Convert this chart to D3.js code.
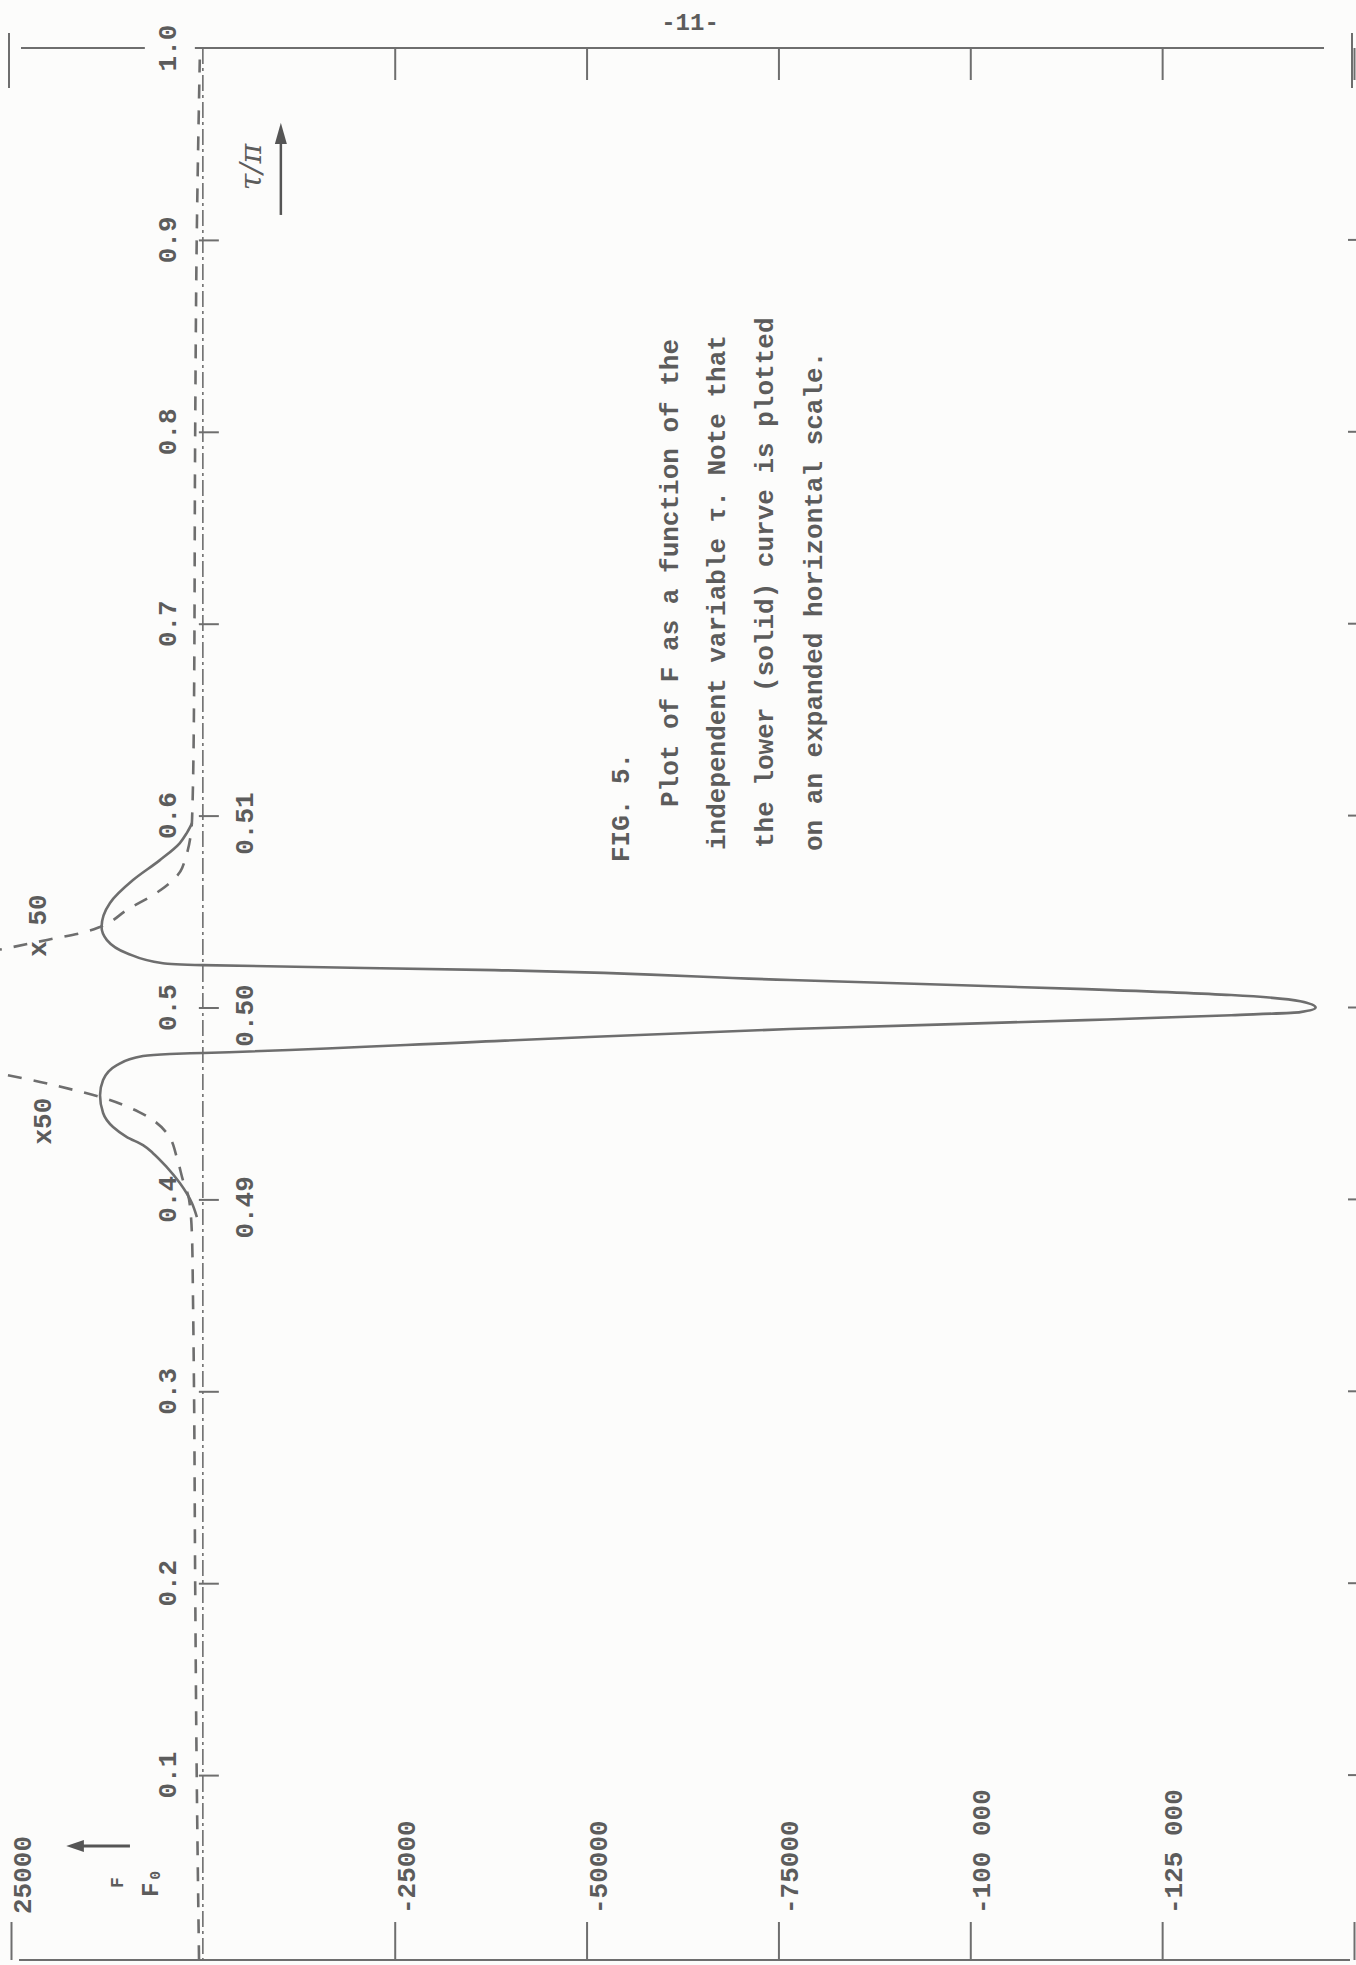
<!DOCTYPE html>
<html>
<head>
<meta charset="utf-8">
<script src="https://cdnjs.cloudflare.com/ajax/libs/d3/7.8.5/d3.min.js"></script>
<style>
  body { margin: 0; background: #fcfcfb; }
  svg { display: block; }
  text { font-family: "Liberation Mono", "DejaVu Sans Mono", monospace; fill: #5c5c5c; font-weight: bold; }
</style>
</head>
<body>
<svg id="chart" width="1356" height="1965"></svg>
<script>
(function (d3) {
    'use strict';

    // tau/pi ticks, main scale
    const tauTicks = [0.1, 0.2, 0.3, 0.4, 0.5, 0.6, 0.7, 0.8, 0.9, 1.0];
    const tauLabels = ["0.1", "0.2", "0.3", "0.4", "0.5", "0.6", "0.7", "0.8", "0.9", "1.0"];
    // expanded scale ticks (solid curve)
    const expTicks = [0.49, 0.50, 0.51];
    const expLabels = ["0.49", "0.50", "0.51"];
    // F ticks
    const fTicks = [25000, -25000, -50000, -75000, -100000, -125000, -150000];
    const fLabels = ["25000", "-25000", "-50000", "-75000", "-100 000", "-125 000", ""];

    // solid curve, expanded tau scale
    const solidTau = [0.48908, 0.48981, 0.49085, 0.49168, 0.49241, 0.49283, 0.49325, 0.49377, 0.4945, 0.49543,
        0.49622, 0.4970, 0.49747, 0.49758, 0.49763, 0.49825, 0.49888, 0.49934, 0.4996, 0.49976,
        0.5000, 0.50033, 0.50065, 0.50096, 0.50143, 0.50195, 0.50221, 0.50231, 0.50283, 0.50351,
        0.50419, 0.50545, 0.50664, 0.50768, 0.50857, 0.50909, 0.50961];
    const solidF = [780, 1430, 3000, 4700, 6500, 7800, 9900, 11700, 13000, 13400,
        13000, 11200, 7800, 4300, 0, -38000, -76500, -115000, -134000, -143000,
        -145000, -143000, -134000, -115000, -76500, -38000, 0, 5200, 9900, 12500,
        13200, 12100, 9100, 5600, 3000, 2100, 1400];

    // dashed curve (x50), main tau scale, lower and upper branch
    const dashLowTau = [0.004, 0.1, 0.2, 0.3, 0.353, 0.379, 0.400, 0.410, 0.4205, 0.4346, 0.4455, 0.4534, 0.4570, 0.4612, 0.4648, 0.467];
    const dashLowF = [500, 800, 1000, 1150, 1300, 1400, 1800, 2600, 3300, 4700, 8300, 13400, 16800, 21200, 25500, 28000];
    const dashUpTau = [0.529, 0.531, 0.5352, 0.5393, 0.5420, 0.5508, 0.5612, 0.5727, 0.5988, 0.66, 0.80, 0.90, 0.994];
    const dashUpF = [28000, 25400, 20300, 15400, 13400, 9900, 5500, 2700, 1400, 1150, 1000, 800, 400];

    const ink = "#6e6e6e";
    const svg = d3.select("#chart");
    svg.append("rect").attr("width", 1356).attr("height", 1965).attr("fill", "#fcfcfb");

    const x = d3.scaleLinear().domain([25000, -150000]).range([11, 1354]);
    const y = d3.scaleLinear().domain([0, 1]).range([1967, 48]);
    const yExp = d3.scaleLinear().domain([0.49, 0.51]).range([y(0.4), y(0.6)]);

    const x0 = x(0);
    const yTop = y(1);
    const yBot = 1960;

    // borders
    const border = svg.append("g").attr("stroke", ink).attr("stroke-width", 2).attr("fill", "none");
    border.append("line").attr("x1", x(25000) + 10).attr("x2", x(-150000) - 30).attr("y1", yTop).attr("y2", yTop);
    border.append("line").attr("x1", x(25000) + 8).attr("x2", x(-150000) - 4).attr("y1", yBot).attr("y2", yBot);

    // top ticks
    svg.append("g")
        .attr("transform", "translate(0," + yTop + ")")
        .call(d3.axisBottom(x).tickValues(fTicks.filter(f => f < 0)).tickSize(32).tickFormat(""))
        .call(g => g.select(".domain").remove())
        .call(g => g.selectAll("line").attr("stroke", ink).attr("stroke-width", 2));
    svg.append("g")
        .selectAll("line")
        .data([25000, -150000])
        .join("line")
        .attr("x1", d => x(d) - 2).attr("x2", d => x(d) - 2)
        .attr("y1", yTop - 15).attr("y2", yTop + 40)
        .attr("stroke", ink).attr("stroke-width", 2);

    // bottom ticks
    svg.append("g")
        .attr("transform", "translate(0," + yBot + ")")
        .call(d3.axisTop(x).tickValues(fTicks).tickSize(38).tickFormat(""))
        .call(g => g.select(".domain").remove())
        .call(g => g.selectAll("line").attr("stroke", ink).attr("stroke-width", 2));

    svg.append("g")
        .selectAll("text")
        .data(fTicks)
        .join("text")
        .attr("transform", d => "translate(" + (x(d) + 20) + "," + 1914 + ") rotate(-90)")
        .attr("font-size", 26)
        .text((d, i) => fLabels[i]);

    // right edge marks
    svg.append("g")
        .selectAll("line")
        .data(tauTicks.slice(0, 9))
        .join("line")
        .attr("x1", x(-150000) - 6).attr("x2", x(-150000) + 2)
        .attr("y1", d => y(d)).attr("y2", d => y(d))
        .attr("stroke", ink).attr("stroke-width", 2);

    // tau axis: dash-dot line with ticks
    svg.append("line")
        .attr("x1", x0).attr("x2", x0)
        .attr("y1", yTop).attr("y2", yBot)
        .attr("stroke", ink).attr("stroke-width", 1.6)
        .attr("stroke-dasharray", "16,4,3,4");

    svg.append("g")
        .attr("transform", "translate(" + x0 + ",0)")
        .call(d3.axisRight(y).tickValues(tauTicks.slice(0, 9)).tickSize(16).tickFormat(""))
        .call(g => g.select(".domain").remove())
        .call(g => g.selectAll("line").attr("stroke", ink).attr("stroke-width", 2).attr("x1", -4));

    // paper patch behind 1.0 label
    svg.append("rect")
        .attr("x", x0 - 58).attr("y", yTop - 10)
        .attr("width", 50).attr("height", 20)
        .attr("fill", "#fcfcfb");

    svg.append("g")
        .selectAll("text")
        .data(tauTicks)
        .join("text")
        .attr("transform", d => "translate(" + (x0 - 27) + "," + y(d) + ") rotate(-90)")
        .attr("text-anchor", "middle")
        .attr("font-size", 26)
        .text((d, i) => tauLabels[i]);

    svg.append("g")
        .selectAll("text")
        .data(expTicks)
        .join("text")
        .attr("transform", d => "translate(" + (x0 + 50) + "," + (yExp(d) + 8) + ") rotate(-90)")
        .attr("text-anchor", "middle")
        .attr("font-size", 26)
        .text((d, i) => expLabels[i]);

    // curves
    const solidLine = d3.line()
        .x(d => x(d[1]))
        .y(d => yExp(d[0]))
        .curve(d3.curveMonotoneY);
    const dashLine = d3.line()
        .x(d => x(d[1]))
        .y(d => y(d[0]))
        .curve(d3.curveMonotoneY);

    svg.append("path")
        .datum(d3.zip(dashLowTau, dashLowF))
        .attr("d", dashLine)
        .attr("fill", "none").attr("stroke", ink).attr("stroke-width", 2.6)
        .attr("stroke-dasharray", "14,12");
    svg.append("path")
        .datum(d3.zip(dashUpTau, dashUpF))
        .attr("d", dashLine)
        .attr("fill", "none").attr("stroke", ink).attr("stroke-width", 2.6)
        .attr("stroke-dasharray", "14,12");

    svg.append("path")
        .datum(d3.zip(solidTau, solidF))
        .attr("d", solidLine)
        .attr("fill", "none").attr("stroke", ink).attr("stroke-width", 2.6);

    // x50 notes
    svg.append("text")
        .attr("transform", "translate(" + 46 + "," + y(0.5427) + ") rotate(-90)")
        .attr("text-anchor", "middle").attr("font-size", 26)
        .text("x 50");
    svg.append("text")
        .attr("transform", "translate(" + 51 + "," + y(0.4408) + ") rotate(-90)")
        .attr("text-anchor", "middle").attr("font-size", 26)
        .text("x50");

    // tau/pi label with arrow
    svg.append("text")
        .attr("transform", "translate(" + (x0 + 58) + "," + y(0.938) + ") rotate(-90)")
        .attr("text-anchor", "middle")
        .style("font-family", "'DejaVu Serif', serif")
        .style("font-style", "italic").style("font-weight", "normal")
        .attr("font-size", 30)
        .text("\u03c4/\u03c0");
    const arrowX = x0 + 78;
    svg.append("line")
        .attr("x1", arrowX).attr("x2", arrowX)
        .attr("y1", y(0.913)).attr("y2", y(0.955))
        .attr("stroke", "#555").attr("stroke-width", 2.5);
    svg.append("path")
        .attr("d", d3.line()([[arrowX - 6, y(0.95)], [arrowX, y(0.961)], [arrowX + 6, y(0.95)]]))
        .attr("fill", "#555");

    // F label with arrow
    const fArrowY = y(0.063);
    svg.append("line")
        .attr("x1", x(9500)).attr("x2", x(17000))
        .attr("y1", fArrowY).attr("y2", fArrowY)
        .attr("stroke", "#555").attr("stroke-width", 3);
    svg.append("path")
        .attr("d", d3.line()([[x(15500), fArrowY - 6], [x(17800), fArrowY], [x(15500), fArrowY + 6]]))
        .attr("fill", "#555");
    svg.append("text")
        .attr("transform", "translate(" + 123 + "," + y(0.044) + ") rotate(-90)")
        .attr("text-anchor", "middle").attr("font-size", 18)
        .text("F");
    svg.append("text")
        .attr("transform", "translate(" + 158 + "," + y(0.044) + ") rotate(-90)")
        .attr("text-anchor", "middle").attr("font-size", 24)
        .text("F\u2080");

    // page number
    svg.append("text")
        .attr("x", 690).attr("y", 30)
        .attr("text-anchor", "middle").attr("font-size", 24)
        .text("-11-");

    // caption
    const caption = [
        {t: "FIG. 5.", bx: 629, start: 862},
        {t: "Plot of F as a function of the", bx: 678, start: 807},
        {t: "independent variable \u03c4.  Note that", bx: 725, start: 850},
        {t: "the lower (solid) curve is plotted", bx: 773, start: 848},
        {t: "on an expanded horizontal scale.", bx: 822, start: 851}
    ];
    svg.append("g")
        .selectAll("text")
        .data(caption)
        .join("text")
        .attr("transform", d => "translate(" + d.bx + "," + d.start + ") rotate(-90)")
        .attr("font-size", 26)
        .text(d => d.t);

}(d3));
</script>
</body>
</html>
